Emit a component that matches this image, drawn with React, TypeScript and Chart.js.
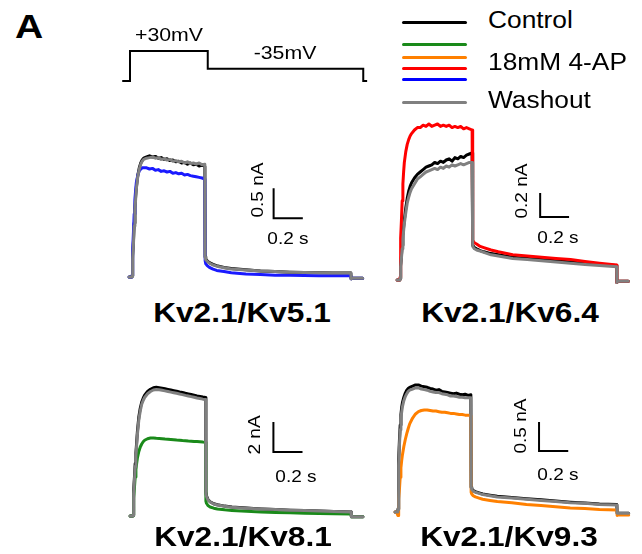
import React, { useEffect, useRef } from "react";
import { Chart, registerables } from "chart.js";
Chart.register(...registerables);

// ---------- DATA ----------
// time (ms) shared by all current traces
const T = [0, 10, 19, 20, 23, 26, 30, 35, 40, 45, 50, 60, 70, 80, 90, 100,
  120, 140, 160, 180, 200, 220, 240, 260, 280, 300, 320, 340, 360, 380, 400, 420, 440, 460, 480, 500, 519,
  521, 525, 535, 550, 575, 600, 650, 700, 800, 900, 1000, 1100, 1200, 1300, 1400, 1519,
  1521, 1530, 1600];

// voltage protocol (ms, mV)
const VT = [-30, 20, 20, 520, 520, 1520, 1520, 1545];
const VV = [-80, -80, 30, 30, -35, -35, -80, -80];

// Kv2.1/Kv5.1 (nA)
const kv51Control = [0, 0, 0,
  0.02, 0.15, 0.35, 0.6, 0.9, 1.15, 1.35, 1.5, 1.7, 1.82, 1.9, 1.95, 1.98,
  2.0, 2.02, 2.0, 2.01, 1.98, 1.99, 1.96, 1.97, 1.94, 1.95, 1.92, 1.93, 1.9, 1.91, 1.88, 1.9, 1.87, 1.88, 1.85, 1.87, 1.84,
  0.34, 0.3, 0.27, 0.24, 0.21, 0.19, 0.16, 0.14, 0.12, 0.1, 0.09, 0.08, 0.075, 0.07, 0.068, 0.065,
  -0.03, -0.02, -0.02];
const kv51Drug = [0, 0, 0,
  0.02, 0.2, 0.45, 0.75, 1.05, 1.3, 1.45, 1.58, 1.7, 1.77, 1.8, 1.82, 1.82,
  1.82, 1.8, 1.81, 1.78, 1.79, 1.76, 1.77, 1.75, 1.76, 1.73, 1.74, 1.72, 1.73, 1.7, 1.71, 1.69, 1.68, 1.67, 1.66, 1.65, 1.63,
  0.27, 0.22, 0.19, 0.16, 0.13, 0.11, 0.09, 0.07, 0.05, 0.04, 0.03, 0.03, 0.025, 0.02, 0.02, 0.02,
  -0.03, -0.02, -0.02];
const kv51Wash = [0, 0, 0,
  0.01, 0.12, 0.3, 0.55, 0.85, 1.1, 1.3, 1.47, 1.68, 1.8, 1.88, 1.93, 1.96,
  1.98, 1.99, 2.0, 1.98, 1.99, 1.96, 1.97, 1.95, 1.96, 1.93, 1.94, 1.92, 1.93, 1.9, 1.92, 1.89, 1.9, 1.88, 1.9, 1.87, 1.88,
  0.33, 0.29, 0.26, 0.23, 0.2, 0.18, 0.155, 0.135, 0.115, 0.1, 0.09, 0.08, 0.075, 0.07, 0.068, 0.065,
  -0.03, -0.02, -0.02];

// Kv2.1/Kv6.4 (nA)
const kv64Control = [0, 0, 0,
  0.01, 0.06, 0.12, 0.2, 0.29, 0.37, 0.44, 0.5, 0.6, 0.68, 0.74, 0.78, 0.81,
  0.85, 0.88, 0.9, 0.92, 0.94, 0.95, 0.96, 0.98, 0.97, 0.99, 0.98, 1.0, 1.01, 0.99, 1.02, 1.01, 1.03, 1.02, 1.04, 1.05, 1.06,
  0.31, 0.29, 0.27, 0.26, 0.245, 0.235, 0.22, 0.21, 0.19, 0.18, 0.17, 0.16, 0.15, 0.14, 0.13, 0.12,
  -0.02, -0.01, -0.01];
const kv64Drug = [0, 0, 0,
  0.02, 0.2, 0.35, 0.5, 0.66, 0.8, 0.9, 0.98, 1.07, 1.13, 1.17, 1.2, 1.22,
  1.25, 1.27, 1.27, 1.29, 1.28, 1.3, 1.28, 1.29, 1.3, 1.28, 1.29, 1.28, 1.29, 1.27, 1.28, 1.27, 1.28, 1.26, 1.27, 1.26, 1.25,
  0.36, 0.33, 0.31, 0.3, 0.28, 0.27, 0.25, 0.235, 0.21, 0.2, 0.19, 0.18, 0.17, 0.155, 0.14, 0.125,
  -0.02, -0.01, -0.01];
const kv64Wash = [0, 0, 0,
  0.01, 0.05, 0.11, 0.18, 0.26, 0.34, 0.41, 0.47, 0.56, 0.64, 0.69, 0.73, 0.76,
  0.8, 0.84, 0.86, 0.88, 0.9, 0.91, 0.92, 0.93, 0.92, 0.94, 0.93, 0.95, 0.94, 0.96, 0.95, 0.96, 0.97, 0.96, 0.97, 0.98, 0.98,
  0.3, 0.28, 0.26, 0.25, 0.24, 0.23, 0.21, 0.2, 0.18, 0.17, 0.16, 0.15, 0.14, 0.13, 0.12, 0.11,
  -0.02, -0.01, -0.01];

// Kv2.1/Kv8.1 (nA)
const kv81Control = [0, 0, 0,
  0.05, 0.8, 1.7, 2.6, 3.5, 4.2, 4.9, 5.6, 6.6, 7.2, 7.6, 7.85, 8.05,
  8.3, 8.45, 8.55, 8.58, 8.55, 8.52, 8.48, 8.44, 8.4, 8.36, 8.32, 8.27, 8.23, 8.18, 8.14, 8.1, 8.06, 8.01, 7.97, 7.93, 7.9,
  1.6, 1.35, 1.1, 0.95, 0.82, 0.75, 0.66, 0.6, 0.53, 0.47, 0.43, 0.39, 0.36, 0.33, 0.3, 0.27,
  -0.05, -0.05, -0.05];
const kv81Drug = [0, 0, 0,
  0.05, 0.6, 1.2, 1.9, 2.6, 3.1, 3.5, 3.85, 4.3, 4.6, 4.8, 4.95, 5.05,
  5.15, 5.2, 5.2, 5.18, 5.17, 5.15, 5.13, 5.12, 5.1, 5.08, 5.06, 5.05, 5.03, 5.02, 5.0, 4.99, 4.97, 4.96, 4.95, 4.93, 4.92,
  1.0, 0.85, 0.7, 0.6, 0.52, 0.47, 0.41, 0.37, 0.31, 0.27, 0.24, 0.21, 0.19, 0.17, 0.15, 0.13,
  -0.05, -0.05, -0.05];
const kv81Wash = [0, 0, 0,
  0.05, 0.7, 1.5, 2.4, 3.3, 4.0, 4.7, 5.4, 6.4, 7.0, 7.45, 7.7, 7.9,
  8.15, 8.3, 8.4, 8.43, 8.41, 8.38, 8.34, 8.3, 8.26, 8.22, 8.18, 8.13, 8.09, 8.04, 8.0, 7.96, 7.92, 7.87, 7.83, 7.79, 7.76,
  1.55, 1.3, 1.08, 0.93, 0.8, 0.73, 0.65, 0.59, 0.52, 0.47, 0.43, 0.39, 0.36, 0.33, 0.3, 0.27,
  -0.05, -0.05, -0.05];

// Kv2.1/Kv9.3 (nA)
const kv93Control = [0, 0, 0,
  0.05, 0.5, 0.9, 1.25, 1.5, 1.68, 1.8, 1.88, 1.98, 2.05, 2.1, 2.13, 2.15,
  2.17, 2.19, 2.19, 2.17, 2.16, 2.15, 2.13, 2.12, 2.1, 2.11, 2.08, 2.07, 2.06, 2.05, 2.04, 2.05, 2.03, 2.02, 2.03, 2.01, 2.02,
  0.43, 0.4, 0.37, 0.35, 0.33, 0.31, 0.29, 0.27, 0.25, 0.23, 0.21, 0.19, 0.17, 0.155, 0.14, 0.13,
  -0.02, -0.02, -0.02];
const kv93Drug = [0, 0, -0.06,
  -0.06, 0.08, 0.22, 0.4, 0.6, 0.76, 0.88, 0.98, 1.13, 1.25, 1.35, 1.44, 1.52,
  1.62, 1.69, 1.73, 1.75, 1.76, 1.76, 1.75, 1.74, 1.74, 1.73, 1.72, 1.72, 1.71, 1.7, 1.7, 1.69, 1.68, 1.68, 1.67, 1.67, 1.66,
  0.34, 0.31, 0.28, 0.26, 0.24, 0.22, 0.2, 0.18, 0.16, 0.13, 0.11, 0.09, 0.07, 0.06, 0.045, 0.035,
  -0.06, -0.05, -0.05];
const kv93Wash = [0, 0, 0,
  0.04, 0.42, 0.8, 1.15, 1.42, 1.6, 1.72, 1.81, 1.92, 1.99, 2.04, 2.08, 2.1,
  2.12, 2.14, 2.14, 2.12, 2.11, 2.1, 2.08, 2.07, 2.06, 2.06, 2.04, 2.03, 2.02, 2.0, 2.0, 1.99, 1.98, 1.98, 1.97, 1.97, 1.97,
  0.42, 0.39, 0.36, 0.34, 0.32, 0.3, 0.28, 0.26, 0.24, 0.22, 0.2, 0.18, 0.16, 0.15, 0.13, 0.12,
  -0.02, -0.02, -0.02];

// panel names and scale bars (data units)
const PANEL_NAMES = ["Kv2.1/Kv5.1", "Kv2.1/Kv6.4", "Kv2.1/Kv8.1", "Kv2.1/Kv9.3"];
const BAR_TIME = [990, 990, 985, 986];      // ms, corner of scale bar
const BAR_CURRENT = [0.98, 0.525, 4.27, 1.05]; // nA, corner of scale bar
const BAR_DT = [200, 200, 200, 200];         // ms
const BAR_DI = [0.5, 0.2, 2, 0.5];           // nA
const BAR_T_LABELS = ["0.2 s", "0.2 s", "0.2 s", "0.2 s"];
const BAR_I_LABELS = ["0.5 nA", "0.2 nA", "2 nA", "0.5 nA"];
const LEGEND_LABELS = ["Control", "18mM 4-AP", "Washout"];
const VOLT_LABELS = ["+30mV", "-35mV"];

// ---------- STYLE / LAYOUT ----------
const C_BLACK = "#000000";
const C_GRAY = "#808080";
const DRUG_COLORS = ["#1a1aff", "#ff0000", "#1a8a1a", "#ff8000"];
const LEGEND_DRUG_COLORS = ["#1a8a1a", "#ff8000", "#ff0000", "#0000ff"];
const FONT = 'Arial, "Liberation Sans", sans-serif';

// canvas rect + mapping anchors (x0 px at t=20ms, y0 px at zero current)
const GEOM = [
  { left: 115, top: 130, w: 260, h: 160, x0: 132, y0: 277, pxX: 0.146, pxY: 60 },
  { left: 380, top: 100, w: 260, h: 190, x0: 400, y0: 280, pxX: 0.1445, pxY: 120 },
  { left: 115, top: 365, w: 260, h: 165, x0: 133, y0: 516, pxX: 0.1455, pxY: 15 },
  { left: 380, top: 365, w: 260, h: 165, x0: 398, y0: 512, pxX: 0.146, pxY: 58 },
];
const PROTO_GEOM = { left: 110, top: 35, w: 270, h: 60, x0: 130, y0: 81, pxX: 0.1555, pxY: 0.2727, v0: -80 };

const TITLE_POS = [[242, 313], [510, 313], [243, 537], [509, 537]];
const ILABEL_POS = [[257, 190], [521, 191], [254, 435], [520, 426]];
const TLABEL_POS = [[288, 238], [558, 237], [296, 476], [558, 474]];

const scaleBarPlugin = {
  id: "scaleBar",
  afterDatasetsDraw(chart: any, _args: any, opts: any) {
    if (!opts || opts.t == null) return;
    const xs = chart.scales.x, ys = chart.scales.y;
    const ctx = chart.ctx;
    const px = xs.getPixelForValue(opts.t);
    const py = ys.getPixelForValue(opts.i);
    const px2 = xs.getPixelForValue(opts.t + opts.dt);
    const py2 = ys.getPixelForValue(opts.i + opts.di);
    ctx.save();
    ctx.strokeStyle = "#000";
    ctx.lineWidth = 2;
    ctx.lineCap = "butt";
    ctx.lineJoin = "miter";
    ctx.beginPath();
    ctx.moveTo(px, py2);
    ctx.lineTo(px, py);
    ctx.lineTo(px2, py);
    ctx.stroke();
    ctx.restore();
  },
};

function ranges(g: any, t0: number, v0: number) {
  const xmin = t0 - (g.x0 - g.left) / g.pxX;
  const xmax = xmin + g.w / g.pxX;
  const ymax = v0 + (g.y0 - g.top) / g.pxY;
  const ymin = ymax - g.h / g.pxY;
  return { xmin, xmax, ymin, ymax };
}

function pts(xs: number[], ys: number[]) {
  return xs.map((x, i) => ({ x, y: ys[i] }));
}

function makeChart(canvas: HTMLCanvasElement, g: any, t0: number, v0: number, datasets: any[], bar: any) {
  const r = ranges(g, t0, v0);
  return new Chart(canvas, {
    type: "line",
    data: { datasets },
    plugins: bar ? [scaleBarPlugin] : [],
    options: {
      responsive: false,
      animation: false,
      devicePixelRatio: 1,
      layout: { padding: 0 },
      elements: { point: { radius: 0 }, line: { tension: 0, borderCapStyle: "round", borderJoinStyle: "round" } },
      scales: {
        x: { type: "linear", display: false, min: r.xmin, max: r.xmax },
        y: { type: "linear", display: false, min: r.ymin, max: r.ymax },
      },
      plugins: {
        legend: { display: false },
        tooltip: { enabled: false },
        ...(bar ? { scaleBar: bar } : {}),
      } as any,
    },
  } as any);
}

const PANEL_DATA = [
  [kv51Control, kv51Drug, kv51Wash],
  [kv64Control, kv64Drug, kv64Wash],
  [kv81Control, kv81Drug, kv81Wash],
  [kv93Control, kv93Drug, kv93Wash],
];

function Label(props: { x: number; y: number; text: string; size: number; bold?: boolean; sx?: number; rot?: number; left?: boolean }) {
  const { x, y, text, size, bold, sx = 1.12, rot = 0, left } = props;
  return (
    <div
      style={{
        position: "absolute",
        left: x,
        top: y,
        fontFamily: FONT,
        fontSize: size,
        fontWeight: bold ? 700 : 400,
        lineHeight: 1,
        whiteSpace: "nowrap",
        color: "#000",
        transformOrigin: left ? "left center" : "center center",
        transform: `translate(${left ? "0" : "-50%"}, -50%) rotate(${rot}deg) scaleX(${sx})`,
      }}
    >
      {text}
    </div>
  );
}

export default function App() {
  const protoRef = useRef<HTMLCanvasElement>(null);
  const refs = [useRef<HTMLCanvasElement>(null), useRef<HTMLCanvasElement>(null), useRef<HTMLCanvasElement>(null), useRef<HTMLCanvasElement>(null)];

  useEffect(() => {
    const charts: Chart[] = [];
    if (protoRef.current) {
      charts.push(
        makeChart(protoRef.current, PROTO_GEOM, 20, PROTO_GEOM.v0, [
          { data: pts(VT, VV), borderColor: C_BLACK, borderWidth: 2, borderCapStyle: "butt", borderJoinStyle: "miter", fill: false },
        ], null)
      );
    }
    PANEL_DATA.forEach((p, k) => {
      const c = refs[k].current;
      if (!c) return;
      const ds = [
        { label: "Control", data: pts(T, p[0]), borderColor: C_BLACK, borderWidth: 3, order: 2, fill: false },
        { label: "18mM 4-AP", data: pts(T, p[1]), borderColor: DRUG_COLORS[k], borderWidth: 3, order: 1, fill: false },
        { label: "Washout", data: pts(T, p[2]), borderColor: C_GRAY, borderWidth: 3, order: 0, fill: false },
      ];
      charts.push(
        makeChart(c, GEOM[k], 20, 0, ds, { t: BAR_TIME[k], i: BAR_CURRENT[k], dt: BAR_DT[k], di: BAR_DI[k] })
      );
    });
    return () => charts.forEach((ch) => ch.destroy());
  }, []);

  const legendLineY = [22, 44, 57, 68, 79, 102];
  const legendLineColors = [C_BLACK, ...LEGEND_DRUG_COLORS, C_GRAY];

  return (
    <div style={{ position: "absolute", left: 0, top: 0, width: 642, height: 554, background: "#fff", overflow: "hidden" }}>
      <canvas
        ref={protoRef}
        width={PROTO_GEOM.w}
        height={PROTO_GEOM.h}
        style={{ position: "absolute", left: PROTO_GEOM.left, top: PROTO_GEOM.top, width: PROTO_GEOM.w, height: PROTO_GEOM.h }}
      />
      {GEOM.map((g, k) => (
        <canvas
          key={k}
          ref={refs[k]}
          width={g.w}
          height={g.h}
          style={{ position: "absolute", left: g.left, top: g.top, width: g.w, height: g.h }}
        />
      ))}
      {legendLineY.map((y, i) => (
        <div
          key={"ll" + i}
          style={{ position: "absolute", left: 402, top: y - 1.5, width: 65, height: 3, borderRadius: 1.5, background: legendLineColors[i] }}
        />
      ))}
      <Label x={29} y={26} text="A" size={34} bold sx={1.15} />
      <Label x={169} y={34} text={VOLT_LABELS[0]} size={19} />
      <Label x={285} y={52} text={VOLT_LABELS[1]} size={19} />
      <Label x={488} y={21} text={LEGEND_LABELS[0]} size={23.5} left />
      <Label x={488} y={63} text={LEGEND_LABELS[1]} size={23.5} left />
      <Label x={488} y={101} text={LEGEND_LABELS[2]} size={23.5} left />
      {PANEL_NAMES.map((n, k) => (
        <Label key={"t" + k} x={TITLE_POS[k][0]} y={TITLE_POS[k][1]} text={n} size={28} bold sx={1.13} />
      ))}
      {BAR_I_LABELS.map((n, k) => (
        <Label key={"i" + k} x={ILABEL_POS[k][0]} y={ILABEL_POS[k][1]} text={n} size={17} rot={-90} />
      ))}
      {BAR_T_LABELS.map((n, k) => (
        <Label key={"s" + k} x={TLABEL_POS[k][0]} y={TLABEL_POS[k][1]} text={n} size={17} />
      ))}
    </div>
  );
}
